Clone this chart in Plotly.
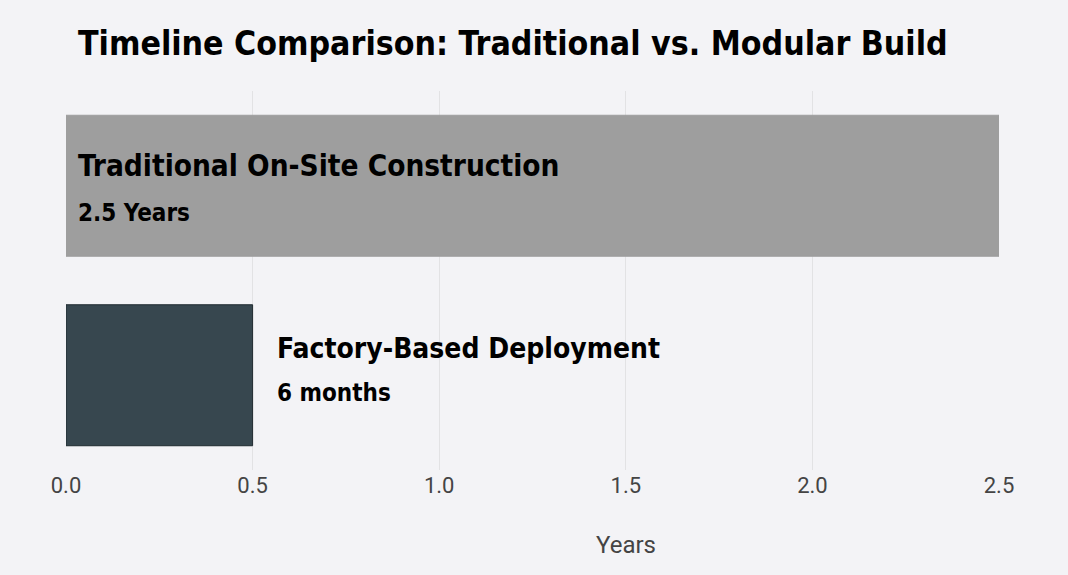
import plotly.graph_objects as go

categories = ["Traditional On-Site Construction", "Factory-Based Deployment"]
years = [2.5, 0.5]
duration_labels = ["2.5 Years", "6 months"]
bar_colors = ["#9e9e9e", "#37474f"]
outline_colors = ["#9e9e9e", "#1f2a30"]

title_font = "Liberation Sans Narrow, DejaVu Sans Condensed, Arial Narrow, sans-serif"
tick_font = "Roboto, Open Sans, sans-serif"

fig = go.Figure(go.Bar(
    x=years,
    y=categories,
    orientation="h",
    marker=dict(color=bar_colors, line=dict(color=outline_colors, width=1)),
    width=0.744,
    hoverinfo="skip",
))

# labels sit inside the long bar, right of the short one
for cat, val, dur in zip(categories, years, duration_labels):
    inside = val > 1
    x0 = 0 if inside else val
    shift = 10 if inside else 22
    fig.add_annotation(x=x0, y=cat, xref="x", yref="y", text="<b>" + cat + "</b>",
                       showarrow=False, xanchor="left", yanchor="middle",
                       xshift=shift, yshift=20 if inside else 27,
                       font=dict(family=title_font, size=29.5 if inside else 28, color="#000"))
    fig.add_annotation(x=x0, y=cat, xref="x", yref="y", text="<b>" + dur + "</b>",
                       showarrow=False, xanchor="left", yanchor="middle",
                       xshift=shift, yshift=-27 if inside else -18,
                       font=dict(family=title_font, size=24, color="#000"))

# axis title sits right of centre in the original
fig.add_annotation(x=0.6, y=-0.197, xref="paper", yref="paper", text="Years",
                   showarrow=False, xanchor="center", yanchor="middle",
                   font=dict(family=tick_font, size=24, color="#444"))

fig.update_layout(
    width=1068, height=575,
    title=dict(text="<b>Timeline Comparison: Traditional vs. Modular Build</b>",
               x=0.073, xanchor="left", y=0.925, yanchor="middle",
               font=dict(family=title_font, size=33.6, color="#000")),
    paper_bgcolor="#f3f3f6", plot_bgcolor="#f3f3f6",
    margin=dict(l=66, r=69, t=91, b=105),
    showlegend=False,
    xaxis=dict(range=[0, 2.5], dtick=0.5, tickformat=".1f",
               showgrid=True, gridcolor="#e2e2e4", gridwidth=1, zeroline=False,
               showline=False, ticks="", ticklen=0,
               tickfont=dict(family=tick_font, size=22, color="#444")),
    yaxis=dict(autorange="reversed", showticklabels=False, showgrid=False,
               zeroline=False, showline=False),
)

fig.write_html("out.html", config={"displayModeBar": False},
               post_script="document.body.style.margin='0';")
